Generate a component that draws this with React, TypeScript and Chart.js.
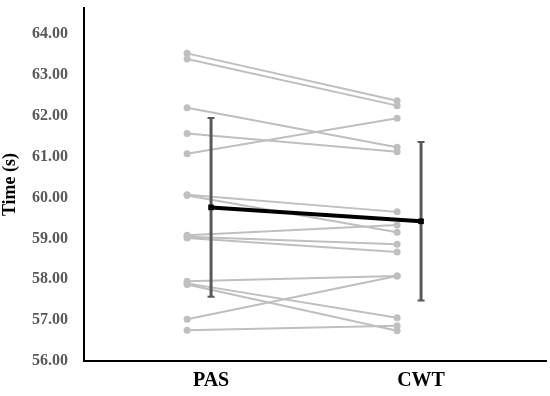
import React, { useEffect, useRef } from "react";
import { Chart, registerables } from "chart.js";

Chart.register(...registerables);

const categories = ["PAS", "CWT"];
const pasTimes = [63.53, 63.39, 62.2, 61.57, 61.07, 60.07, 60.05, 59.08, 59.04, 59.01, 57.95, 57.9, 57.87, 57.02, 56.75];
const cwtTimes = [62.37, 62.25, 61.23, 61.12, 61.94, 59.65, 59.15, 59.33, 58.86, 58.67, 58.08, 57.06, 56.74, 58.08, 56.86];
const meanTimes = [59.76, 59.42];
const sdTimes = [2.19, 1.94];
const yTicks = [56, 57, 58, 59, 60, 61, 62, 63, 64];

const GREY_OFFSET = 0.114;

export default function App() {
  const ref = useRef<HTMLCanvasElement | null>(null);
  useEffect(() => {
    document.body.style.margin = "0";
    const canvas = ref.current;
    if (!canvas) return;

    const errorBars = {
      id: "errorBars",
      beforeDatasetDraw(chart: any, args: any) {
        if (args.index !== 0) return;
        const { ctx, scales } = chart;
        const xs = scales.x;
        const ys = scales.y;
        ctx.save();
        ctx.strokeStyle = "#595959";
        meanTimes.forEach((m, i) => {
          const x = xs.getPixelForValue(i + 1);
          const yTop = ys.getPixelForValue(m + sdTimes[i]);
          const yBot = ys.getPixelForValue(m - sdTimes[i]);
          ctx.lineWidth = 3;
          ctx.beginPath();
          ctx.moveTo(x, yTop);
          ctx.lineTo(x, yBot);
          ctx.stroke();
          ctx.lineWidth = 2;
          ctx.beginPath();
          ctx.moveTo(x - 3.5, yTop);
          ctx.lineTo(x + 3.5, yTop);
          ctx.moveTo(x - 3.5, yBot);
          ctx.lineTo(x + 3.5, yBot);
          ctx.stroke();
        });
        ctx.restore();
      },
    };

    const pairDatasets = pasTimes.map((p, i) => ({
      data: [
        { x: 1 - GREY_OFFSET, y: p },
        { x: 2 - GREY_OFFSET, y: cwtTimes[i] },
      ],
      borderColor: "#BFBFBF",
      backgroundColor: "#BFBFBF",
      borderWidth: 2,
      pointRadius: 3.5,
      pointBorderWidth: 0,
      pointBackgroundColor: "#BFBFBF",
      showLine: true,
    }));

    const chart = new Chart(canvas, {
      type: "scatter",
      data: {
        datasets: [
          {
            data: meanTimes.map((m, i) => ({ x: i + 1, y: m })),
            borderColor: "#000000",
            backgroundColor: "#000000",
            borderWidth: 4,
            pointStyle: "rect",
            pointRadius: 4,
            pointBorderWidth: 0,
            showLine: true,
          },
          ...pairDatasets,
        ] as any,
      },
      plugins: [errorBars],
      options: {
        animation: false,
        responsive: false,
        maintainAspectRatio: false,
        layout: { padding: { top: 8, right: 4, left: 0, bottom: 0 } },
        plugins: {
          legend: { display: false },
          tooltip: { enabled: false },
        },
        scales: {
          x: {
            type: "linear",
            min: 0.395,
            max: 2.595,
            grid: { display: false, drawTicks: false },
            border: { display: true, color: "#000000", width: 2 },
            afterBuildTicks: (scale: any) => {
              scale.ticks = categories.map((_, i) => ({ value: i + 1 }));
            },
            afterFit: (scale: any) => {
              scale.height = 35;
              scale.paddingLeft = 0;
              scale.paddingRight = 0;
            },
            ticks: {
              padding: 8,
              color: "#000000",
              font: { family: "Liberation Serif", size: 20, weight: "bold" },
              callback: (v: any) => categories[Math.round(Number(v)) - 1] ?? "",
            },
          },
          y: {
            type: "linear",
            min: 56,
            max: 64.64,
            grid: { display: false, drawTicks: false },
            border: { display: true, color: "#000000", width: 2 },
            afterBuildTicks: (scale: any) => {
              scale.ticks = yTicks.map((v) => ({ value: v }));
            },
            afterFit: (scale: any) => {
              scale.width = 84;
              scale.paddingTop = 0;
              scale.paddingBottom = 0;
            },
            title: {
              display: true,
              text: "Time (s)",
              color: "#000000",
              font: { family: "Liberation Serif", size: 18, weight: "bold" },
              padding: { top: 0, bottom: 0 },
            },
            ticks: {
              padding: 16,
              color: "#595959",
              font: { family: "Liberation Serif", size: 16, weight: "bold" },
              callback: (v: any) => Number(v).toFixed(2),
            },
          },
        },
      } as any,
    });
    return () => chart.destroy();
  }, []);

  return (
    <div style={{ width: 550, height: 396 }}>
      <canvas ref={ref} width={550} height={396} style={{ display: "block" }} />
    </div>
  );
}
